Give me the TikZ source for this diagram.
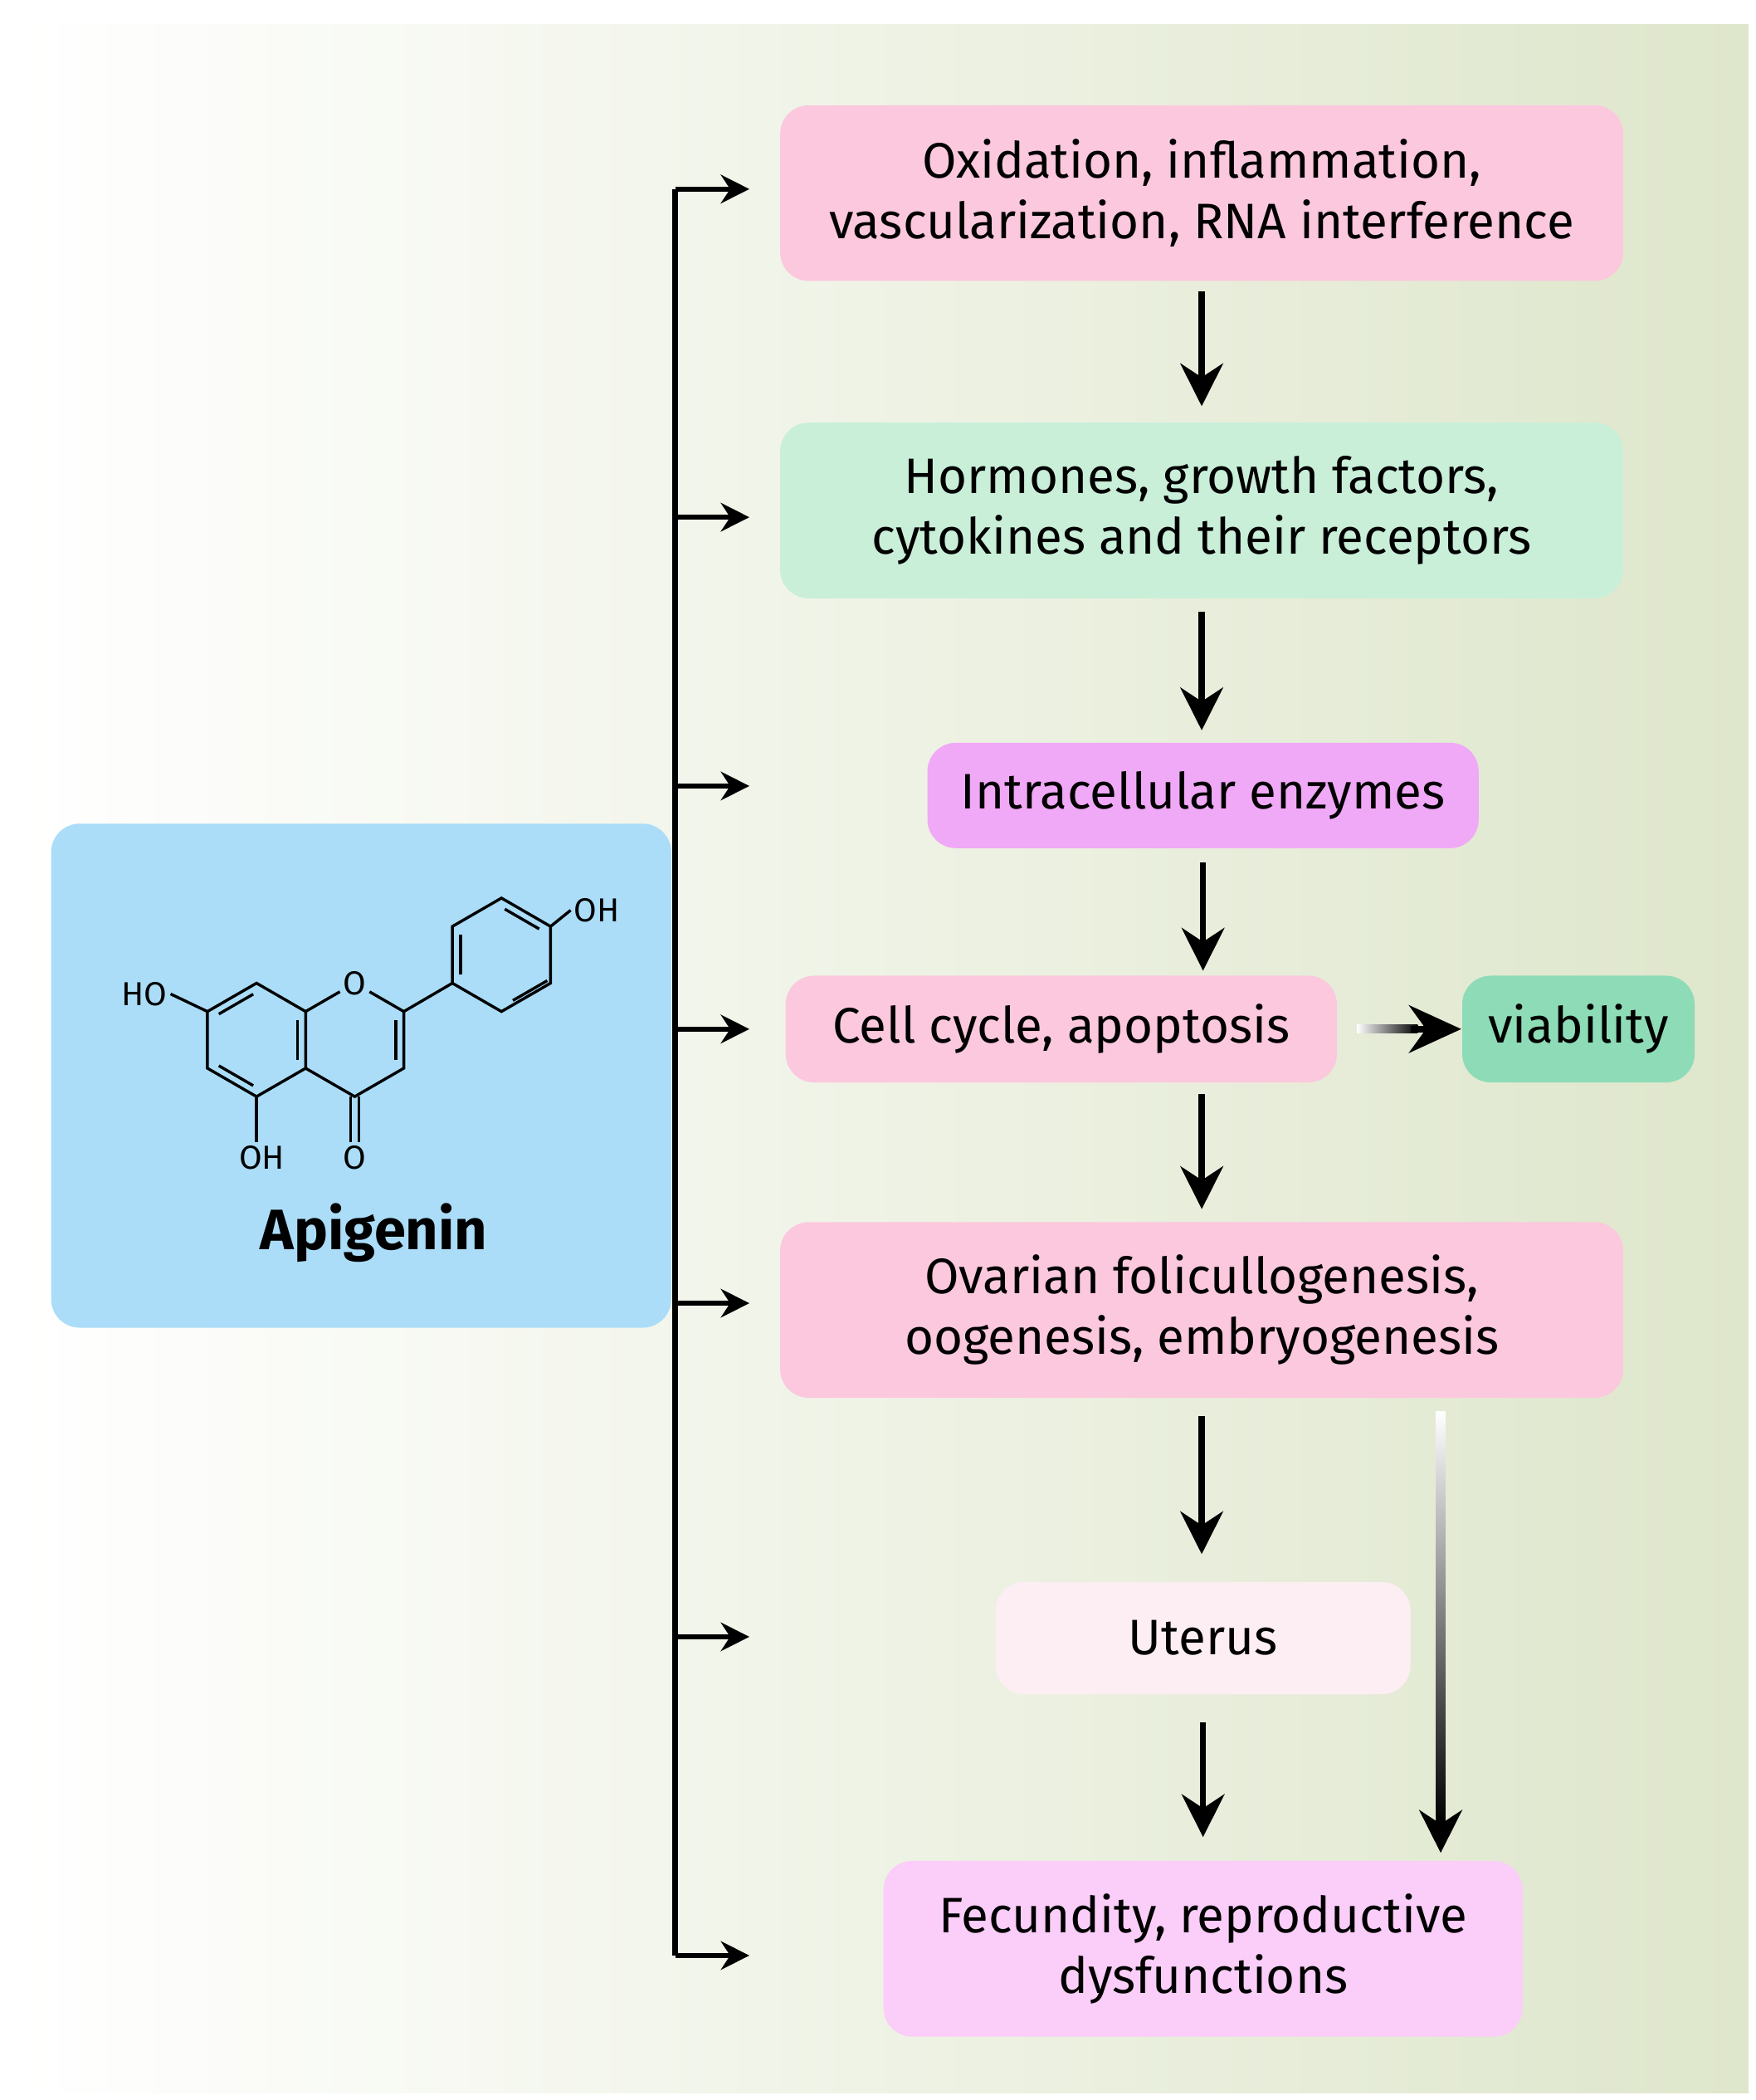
\documentclass[tikz,border=0pt]{standalone}
\usepackage{fontspec}
\setmainfont{Fira Sans}
\usetikzlibrary{arrows.meta,positioning,calc}

\definecolor{bgright}{HTML}{DEE6CB}
\definecolor{apiblue}{HTML}{ABDDF9}
\definecolor{boxpink}{HTML}{FBC8DD}
\definecolor{boxgreen}{HTML}{C9EFD9}
\definecolor{boxviolet}{HTML}{F0A9F6}
\definecolor{boxmint}{HTML}{8EDCB7}
\definecolor{boxpale}{HTML}{FDEEF4}
\definecolor{boxlilac}{HTML}{FBCDF9}

\tikzset{
	box/.style={rounded corners=6pt, align=center, inner sep=0pt, font=\fontsize{10.5}{12.8}\selectfont},
	flow/.style={-{Stealth[length=9pt,width=9pt]}, line width=1.3pt},
	side/.style={-{Stealth[length=6pt,width=6pt]}, line width=1.1pt},
	bond/.style={line width=0.6pt},
	atom/.style={font=\fontsize{7}{8}\selectfont, inner sep=0.5pt}
}

\begin{document}
\begin{tikzpicture}[x=0.01cm,y=-0.01cm]
\useasboundingbox (0,0) rectangle (1300,1555);
\shade[left color=white, right color=bgright] (18,18) rectangle (1295,1550);

% apigenin panel
\node[box, fill=apiblue, minimum width=4.59cm, minimum height=3.73cm] (api) at (267.5,796.5) {};
\node[font=\fontsize{12}{14}\selectfont\bfseries] (apiname) at (277,913) {Apigenin};

% rings
\def\r{42}
\foreach \c/\x/\y in {A/190/770, C/262.7/770, B/371.4/707}{
	\foreach \k in {1,...,6}{
		\coordinate (\c\k) at ({\x+\r*cos(90-60*(\k-1))},{\y-\r*sin(90-60*(\k-1))});
	}
}
\draw[bond] (A1) -- (A2) -- (A3) -- (A4) -- (A5) -- (A6) -- cycle;
\draw[bond] (C2) -- (C3) -- (C4) -- (C5);
\draw[bond] (B1) -- (B2) -- (B3) -- (B4) -- (B5) -- (B6) -- cycle;
\node[atom, fill=apiblue] (ox) at (C1) {O};
\draw[bond] (C6) -- (ox) -- (C2);
\draw[bond] (C2) -- (B5);
% double bonds
\draw[bond] ($(A2)!0.15!(A3)+(-6,0)$) -- ($(A3)!0.15!(A2)+(-6,0)$);
\draw[bond] ($(A4)!0.15!(A5)+(3,-5)$) -- ($(A5)!0.15!(A4)+(3,-5)$);
\draw[bond] ($(A6)!0.15!(A1)+(3,5)$) -- ($(A1)!0.15!(A6)+(3,5)$);
\draw[bond] ($(C2)!0.15!(C3)+(-6,0)$) -- ($(C3)!0.15!(C2)+(-6,0)$);
\draw[bond] ($(B1)!0.15!(B2)+(-3,5)$) -- ($(B2)!0.15!(B1)+(-3,5)$);
\draw[bond] ($(B3)!0.15!(B4)+(3,-5)$) -- ($(B4)!0.15!(B3)+(3,-5)$);
\draw[bond] ($(B5)!0.15!(B6)+(6,0)$) -- ($(B6)!0.15!(B5)+(6,0)$);
% substituents
\node[atom] (oket) at (262.7,857) {O};
\draw[bond] ($(C4)+(-3,0)$) -- ($(oket.north)+(-3,0)$);
\draw[bond] ($(C4)+(3,0)$) -- ($(oket.north)+(3,0)$);
\node[atom] (oh5) at (194,857) {OH};
\draw[bond] (A4) -- (oh5.north -| A4);
\node[atom] (ho7) at (107,736) {HO};
\draw[bond] (A6) -- (ho7.east);
\node[atom] (oh4) at (442,674) {OH};
\draw[bond] (B2) -- (oh4.west);

% flow boxes
\node[box, fill=boxpink, minimum width=6.24cm, minimum height=1.30cm] (oxi) at (890,143) {Oxidation, inflammation,\\vascularization, RNA interference};
\node[box, fill=boxgreen, minimum width=6.24cm, minimum height=1.30cm] (horm) at (890,378) {Hormones, growth factors,\\cytokines and their receptors};
\node[box, fill=boxviolet, minimum width=4.08cm, minimum height=0.78cm] (enz) at (891,589) {Intracellular enzymes};
\node[box, fill=boxpink, minimum width=4.08cm, minimum height=0.79cm] (cell) at (786,762) {Cell cycle, apoptosis};
\node[box, fill=boxmint, minimum width=1.72cm, minimum height=0.79cm] (viab) at (1169,762) {viability};
\node[box, fill=boxpink, minimum width=6.24cm, minimum height=1.30cm] (ovar) at (890,970) {Ovarian folicullogenesis,\\oogenesis, embryogenesis};
\node[box, fill=boxpale, minimum width=3.07cm, minimum height=0.83cm] (uter) at (891,1213) {Uterus};
\node[box, fill=boxlilac, minimum width=4.73cm, minimum height=1.30cm] (fecu) at (891,1443) {Fecundity, reproductive\\dysfunctions};

% vertical arrows
\draw[flow] ([yshift=-0.07cm]oxi.south) -- ([yshift=-0.92cm]oxi.south);
\draw[flow] ([yshift=-0.09cm]horm.south) -- ([yshift=-0.97cm]horm.south);
\draw[flow] ([yshift=-0.10cm]enz.south) -- ([yshift=-0.90cm]enz.south);
\draw[flow] ([yshift=-0.08cm,xshift=1.04cm]cell.south) -- ([yshift=-0.93cm,xshift=1.04cm]cell.south);
\draw[flow] ([yshift=-0.13cm]ovar.south) -- ([yshift=-1.15cm]ovar.south);
\draw[flow] ([yshift=-0.20cm]uter.south) -- ([yshift=-1.05cm]uter.south);
\coordinate (ltop) at (1067,1045);
\coordinate (lbot) at (1067,1372);
\shade[top color=white, bottom color=black] (1063.5,1045) rectangle (1070.5,1350);
\draw[-{Stealth[length=9pt,width=9pt]}, line width=1.3pt] (1067,1345) -- (lbot);
\shade[left color=white, right color=black] (1005,759) rectangle (1050,765);
\draw[-{Stealth[length=11pt,width=10pt]}, line width=1.5pt] (1045,762) -- (viab.west);

% side bracket
\coordinate (btop) at (500,140);
\coordinate (bbot) at (500,1448);
\draw[line width=1.3pt] (btop) -- (bbot);
\foreach \y in {140,383,582,762,965,1212,1448}{
	\draw[side] (500,\y) -- (555,\y);
}
\end{tikzpicture}
\end{document}
